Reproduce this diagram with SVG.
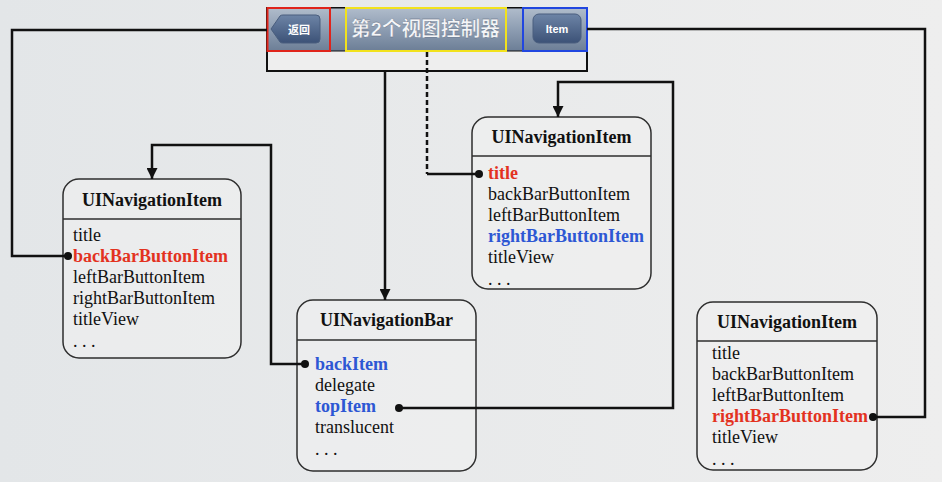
<svg xmlns="http://www.w3.org/2000/svg" width="942" height="482" viewBox="0 0 942 482">
<defs>
<linearGradient id="bg" x1="0" y1="0" x2="1" y2="0">
<stop offset="0" stop-color="#e3e6e8"/>
<stop offset="1" stop-color="#eeeeee"/>
</linearGradient>
<linearGradient id="bar" x1="0" y1="0" x2="0" y2="1">
<stop offset="0" stop-color="#b0bccb"/>
<stop offset="0.5" stop-color="#8d9db2"/>
<stop offset="1" stop-color="#6c7e96"/>
</linearGradient>
<linearGradient id="btn" x1="0" y1="0" x2="0" y2="1">
<stop offset="0" stop-color="#6d84a6"/>
<stop offset="1" stop-color="#3c5277"/>
</linearGradient>
<marker id="arr" viewBox="0 0 10 10" refX="10" refY="5" markerWidth="4.4" markerHeight="4.4" orient="auto" markerUnits="strokeWidth">
<path d="M0,0 L10,5 L0,10 z" fill="#111"/>
</marker>
<style>
.box{fill:#f0f1f1;fill-opacity:0.55;stroke:#2e2e2e;stroke-width:1.5}
.div{stroke:#2e2e2e;stroke-width:1.5}
.hd{font-family:"Liberation Serif",serif;font-size:18px;font-weight:bold;fill:#111;text-anchor:middle}
.t{font-family:"Liberation Serif",serif;font-size:18px;fill:#111}
.red{fill:#e3321f;font-weight:bold}
.blue{fill:#2d57d4;font-weight:bold}
.ln{fill:none;stroke:#111;stroke-width:2.5}
.dot{fill:#111}
</style>
</defs>
<rect width="942" height="482" fill="url(#bg)"/>

<g id="navbar">
<rect x="267" y="8" width="320" height="63" fill="#eeeeee" stroke="#111" stroke-width="2"/>
<rect x="267" y="8" width="320" height="43" fill="url(#bar)" stroke="#111" stroke-width="1"/>
<path d="M271,29 L280,16 Q281,15 283,15 L316,15 Q320,15 320,19 L320,39 Q320,43 316,43 L283,43 Q281,43 280,42 Z" fill="url(#btn)" stroke="#4a5e7e" stroke-width="1"/>
<text x="299" y="34" font-family="'Noto Sans CJK SC',sans-serif" font-size="11" fill="#ffffff" text-anchor="middle" font-weight="bold">返回</text>
<rect x="533" y="14" width="48" height="29" rx="6" fill="url(#btn)" stroke="#4a5e7e" stroke-width="1"/>
<text x="557" y="33" font-family="'Liberation Sans',sans-serif" font-size="11" font-weight="bold" fill="#ffffff" text-anchor="middle">Item</text>
<text x="351" y="36" font-family="'Liberation Sans','Noto Sans CJK SC',sans-serif" font-size="20" font-weight="bold" fill="#f4f6f8" textLength="149" lengthAdjust="spacingAndGlyphs" stroke="#55657a" stroke-width="0.3">第2个视图控制器</text>
<rect x="267.5" y="8" width="62.5" height="43" fill="none" stroke="#e0241b" stroke-width="2"/>
<rect x="346" y="8" width="160" height="43" fill="none" stroke="#f2e21c" stroke-width="2"/>
<rect x="523" y="8" width="64" height="43" fill="none" stroke="#2146e0" stroke-width="2"/>
</g>

<g id="item-left">
<rect class="box" x="63" y="179" width="178" height="179" rx="16"/>
<line class="div" x1="63" y1="219" x2="241" y2="219"/>
<text class="hd" x="152" y="206">UINavigationItem</text>
<text class="t" x="73" y="241">title</text>
<text class="t red" x="73" y="262">backBarButtonItem</text>
<text class="t" x="73" y="283">leftBarButtonItem</text>
<text class="t" x="73" y="304">rightBarButtonItem</text>
<text class="t" x="73" y="325">titleView</text>
<text class="t" x="73" y="347">. . .</text>
</g>

<g id="navigation-bar">
<rect class="box" x="297" y="300" width="179" height="171" rx="16"/>
<line class="div" x1="297" y1="340" x2="476" y2="340"/>
<text class="hd" x="386.5" y="326">UINavigationBar</text>
<text class="t blue" x="315" y="370">backItem</text>
<text class="t" x="315" y="391">delegate</text>
<text class="t blue" x="315" y="412">topItem</text>
<text class="t" x="315" y="433">translucent</text>
<text class="t" x="315" y="455">. . .</text>
</g>

<g id="item-top">
<rect class="box" x="472" y="117" width="179" height="172" rx="16"/>
<line class="div" x1="472" y1="156" x2="651" y2="156"/>
<text class="hd" x="561.5" y="143">UINavigationItem</text>
<text class="t red" x="488" y="179">title</text>
<text class="t" x="488" y="200">backBarButtonItem</text>
<text class="t" x="488" y="221">leftBarButtonItem</text>
<text class="t blue" x="488" y="242">rightBarButtonItem</text>
<text class="t" x="488" y="263">titleView</text>
<text class="t" x="488" y="285">. . .</text>
</g>

<g id="item-right">
<rect class="box" x="697" y="302" width="180" height="168" rx="16"/>
<line class="div" x1="697" y1="341" x2="877" y2="341"/>
<text class="hd" x="787" y="328">UINavigationItem</text>
<text class="t" x="712" y="359">title</text>
<text class="t" x="712" y="380">backBarButtonItem</text>
<text class="t" x="712" y="401">leftBarButtonItem</text>
<text class="t red" x="712" y="422">rightBarButtonItem</text>
<text class="t" x="712" y="443">titleView</text>
<text class="t" x="712" y="465">. . .</text>
</g>

<g id="connectors">
<path class="ln" d="M267,30 H12 V256 H68"/>
<circle class="dot" cx="68" cy="256" r="4"/>
<path class="ln" d="M587,29 H925 V417 H873"/>
<circle class="dot" cx="873" cy="417" r="4"/>
<path class="ln" d="M385,71 V300" marker-end="url(#arr)"/>
<path class="ln" d="M427,52 V174" stroke-dasharray="5,3"/>
<path class="ln" d="M427,174 H479"/>
<circle class="dot" cx="479" cy="174" r="4"/>
<path class="ln" d="M305,364 H271 V145 H152 V179" marker-end="url(#arr)"/>
<circle class="dot" cx="305" cy="364" r="4"/>
<path class="ln" d="M399,408 H673 V82 H558 V117" marker-end="url(#arr)"/>
<circle class="dot" cx="399" cy="408" r="4"/>
</g>
</svg>
